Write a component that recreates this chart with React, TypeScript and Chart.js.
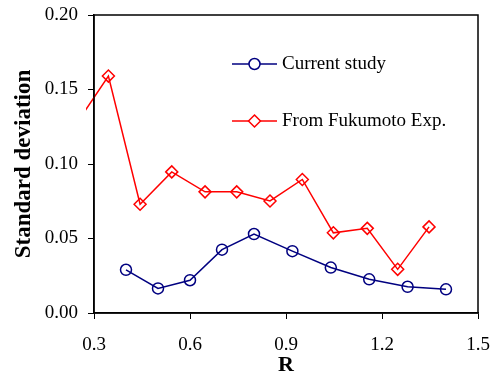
import React, { useEffect, useRef } from "react";
import { Chart, registerables } from "chart.js";

Chart.register(...registerables);

const rCurrent = [0.40, 0.50, 0.60, 0.70, 0.80, 0.92, 1.04, 1.16, 1.28, 1.40];
const sdCurrent = [0.029, 0.0165, 0.022, 0.0425, 0.053, 0.0415, 0.0305, 0.0226, 0.0176, 0.0159];
const rFukumoto = [0.245, 0.345, 0.444, 0.543, 0.647, 0.746, 0.85, 0.951, 1.048, 1.154, 1.249, 1.347];
const sdFukumoto = [0.127, 0.159, 0.073, 0.0947, 0.0813, 0.0813, 0.0752, 0.0896, 0.0538, 0.0568, 0.0293, 0.0578];
const seriesLabels = ["Current study", "From Fukumoto Exp."];
const xTitle = "R";
const yTitle = "Standard deviation";

const FONT = "'Liberation Serif', 'Times New Roman', serif";

const boxPlugin = {
  id: "boxFrame",
  afterDraw(chart: any) {
    const { ctx, chartArea } = chart;
    ctx.save();
    ctx.strokeStyle = "#000";
    ctx.lineWidth = 1.5;
    ctx.strokeRect(chartArea.left, chartArea.top, chartArea.right - chartArea.left, chartArea.bottom - chartArea.top);
    ctx.restore();
  },
};

const legendPlugin = {
  id: "insideLegend",
  afterDraw(chart: any) {
    const { ctx, chartArea } = chart;
    const x0 = chartArea.left + 138;
    const x1 = chartArea.left + 183;
    const ys = [chartArea.top + 49, chartArea.top + 106];
    chart.data.datasets.forEach((ds: any, i: number) => {
      const y = ys[i];
      ctx.save();
      ctx.strokeStyle = ds.borderColor;
      ctx.lineWidth = 1.5;
      ctx.beginPath();
      ctx.moveTo(x0, y);
      ctx.lineTo(x1, y);
      ctx.stroke();
      const cx = (x0 + x1) / 2;
      ctx.beginPath();
      if (ds.pointStyle === "rectRot") {
        const r = ds.pointRadius;
        ctx.moveTo(cx, y - r);
        ctx.lineTo(cx + r, y);
        ctx.lineTo(cx, y + r);
        ctx.lineTo(cx - r, y);
        ctx.closePath();
      } else {
        ctx.arc(cx, y, ds.pointRadius, 0, Math.PI * 2);
      }
      ctx.fillStyle = "#fff";
      ctx.fill();
      ctx.stroke();
      ctx.fillStyle = "#000";
      ctx.font = `19px ${FONT}`;
      ctx.textBaseline = "middle";
      ctx.textAlign = "left";
      ctx.fillText(ds.label, x1 + 5, y);
      ctx.restore();
    });
  },
};

const zeroPad = (s: any) => {
  s.paddingTop = 0;
  s.paddingBottom = 0;
  s.paddingLeft = 0;
  s.paddingRight = 0;
};

export default function App() {
  const ref = useRef<HTMLCanvasElement | null>(null);
  useEffect(() => {
    if (!ref.current) return;
    Chart.defaults.font.family = FONT;
    Chart.defaults.color = "#000";
    const chart = new Chart(ref.current, {
      type: "line",
      data: {
        datasets: [
          {
            label: seriesLabels[0],
            data: rCurrent.map((x, i) => ({ x, y: sdCurrent[i] })),
            borderColor: "#000080",
            backgroundColor: "rgba(0,0,0,0)",
            borderWidth: 1.5,
            pointStyle: "circle",
            pointRadius: 5.5,
            pointBorderWidth: 1.5,
            pointBackgroundColor: "rgba(0,0,0,0)",
            tension: 0,
          },
          {
            label: seriesLabels[1],
            data: rFukumoto.map((x, i) => ({ x, y: sdFukumoto[i] })),
            borderColor: "#ff0000",
            backgroundColor: "rgba(0,0,0,0)",
            borderWidth: 1.5,
            pointStyle: "rectRot",
            pointRadius: 6,
            pointBorderWidth: 1.5,
            pointBackgroundColor: "rgba(0,0,0,0)",
            tension: 0,
            clip: { left: 8, right: 10, top: 10, bottom: 10 } as any,
          },
        ],
      },
      options: {
        animation: false,
        responsive: false,
        layout: { padding: { top: 15, right: 18, left: 0, bottom: 0 } },
        plugins: { legend: { display: false }, tooltip: { enabled: false } },
        scales: {
          x: {
            type: "linear",
            min: 0.3,
            max: 1.5,
            afterFit: (s: any) => { s.height = 63; zeroPad(s); },
            ticks: {
              stepSize: 0.3,
              font: { size: 19 },
              padding: 15,
              maxRotation: 0,
              callback: (v: any) => Number(v).toFixed(1),
            },
            grid: { drawOnChartArea: false, drawTicks: true, tickLength: 6, color: "#000", lineWidth: 1 },
            border: { display: true, color: "#000", width: 1.5 },
            title: {
              display: true,
              text: xTitle,
              font: { size: 22, weight: "bold", lineHeight: 1 },
              padding: { top: 0, bottom: 0 },
            },
          },
          y: {
            type: "linear",
            min: 0,
            max: 0.2,
            afterFit: (s: any) => { s.width = 94; zeroPad(s); },
            ticks: {
              stepSize: 0.05,
              font: { size: 19 },
              padding: 10,
              callback: (v: any) => Number(v).toFixed(2),
            },
            grid: { drawOnChartArea: false, drawTicks: true, tickLength: 6, color: "#000", lineWidth: 1 },
            border: { display: true, color: "#000", width: 1.5 },
            title: {
              display: true,
              text: yTitle,
              font: { size: 23, weight: "bold", lineHeight: 1.2 },
              padding: { top: 10, bottom: 0 },
            },
          },
        },
      },
      plugins: [boxPlugin, legendPlugin],
    });
    return () => chart.destroy();
  }, []);
  return (
    <div style={{ position: "absolute", left: 0, top: 0, width: 496, height: 376, background: "#fff" }}>
      <canvas ref={ref} width={496} height={376} style={{ display: "block" }} />
    </div>
  );
}
